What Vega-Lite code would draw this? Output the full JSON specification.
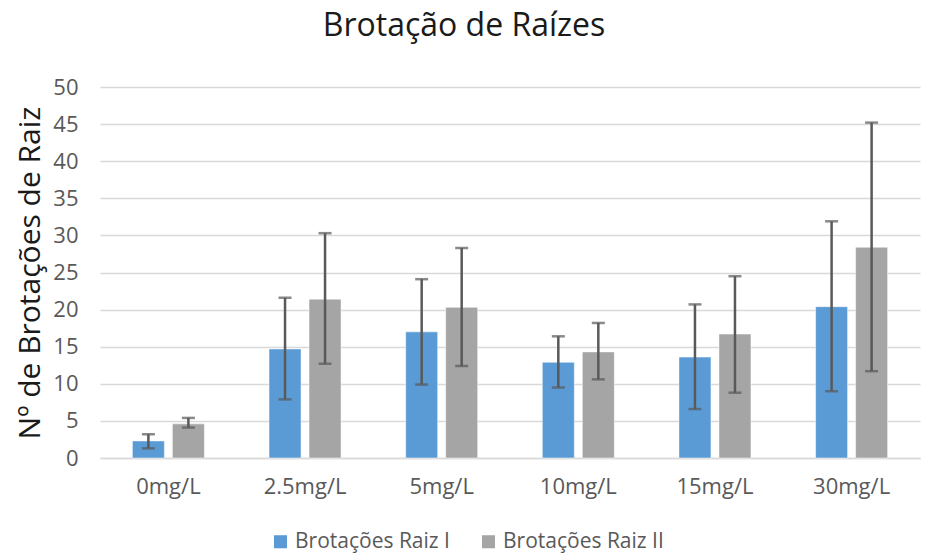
{
  "$schema": "https://vega.github.io/schema/vega-lite/v6.json",
  "autosize": "none",
  "width": 820,
  "height": 371,
  "padding": {"left": 100, "top": 87, "right": 7, "bottom": 97},
  "background": "white",
  "config": {
    "font": "Open Sans",
    "view": {"stroke": null},
    "axisY": {
      "tickCount": 10,
      "labelOverlap": false,
      "labelFontSize": 22,
      "labelColor": "#595959",
      "labelPadding": 22,
      "ticks": false,
      "domain": false,
      "gridColor": "#D9D9D9",
      "gridWidth": 1.5,
      "titleFontSize": 30,
      "titleFontWeight": "normal",
      "titleColor": "#1a1a1a",
      "titlePadding": 7
    }
  },
  "title": {
    "text": "Brotação de Raízes",
    "fontSize": 32,
    "font": "Open Sans",
    "fontWeight": "normal",
    "color": "#1a1a1a",
    "anchor": "middle",
    "dx": -46,
    "offset": 33
  },
  "data": {
    "values": [
      {"conc": "0mg/L", "serie": "Brotações Raiz I", "valor": 2.3, "lo": 1.3, "hi": 3.2},
      {"conc": "0mg/L", "serie": "Brotações Raiz II", "valor": 4.6, "lo": 4.1, "hi": 5.4},
      {"conc": "2.5mg/L", "serie": "Brotações Raiz I", "valor": 14.7, "lo": 7.9, "hi": 21.6},
      {"conc": "2.5mg/L", "serie": "Brotações Raiz II", "valor": 21.4, "lo": 12.7, "hi": 30.3},
      {"conc": "5mg/L", "serie": "Brotações Raiz I", "valor": 17.0, "lo": 9.9, "hi": 24.1},
      {"conc": "5mg/L", "serie": "Brotações Raiz II", "valor": 20.3, "lo": 12.4, "hi": 28.3},
      {"conc": "10mg/L", "serie": "Brotações Raiz I", "valor": 12.9, "lo": 9.5, "hi": 16.4},
      {"conc": "10mg/L", "serie": "Brotações Raiz II", "valor": 14.3, "lo": 10.6, "hi": 18.2},
      {"conc": "15mg/L", "serie": "Brotações Raiz I", "valor": 13.6, "lo": 6.6, "hi": 20.7},
      {"conc": "15mg/L", "serie": "Brotações Raiz II", "valor": 16.7, "lo": 8.8, "hi": 24.5},
      {"conc": "30mg/L", "serie": "Brotações Raiz I", "valor": 20.4, "lo": 9.0, "hi": 31.9},
      {"conc": "30mg/L", "serie": "Brotações Raiz II", "valor": 28.4, "lo": 11.7, "hi": 45.2}
    ]
  },
  "encoding": {
    "x": {
      "field": "conc",
      "type": "nominal",
      "sort": ["0mg/L", "2.5mg/L", "5mg/L", "10mg/L", "15mg/L", "30mg/L"],
      "scale": {"paddingInner": 0.473, "paddingOuter": 0.237},
      "axis": {
        "title": null,
        "labelAngle": 0,
        "labelFontSize": 22,
        "labelColor": "#595959",
        "labelPadding": 18,
        "ticks": false,
        "domain": true,
        "domainColor": "#D9D9D9",
        "domainWidth": 1.5,
        "grid": false
      }
    },
    "xOffset": {
      "field": "serie",
      "type": "nominal",
      "scale": {"paddingInner": 0.2, "paddingOuter": 0}
    }
  },
  "layer": [
    {
      "mark": {"type": "bar", "stroke": "white", "strokeWidth": 0.5},
      "encoding": {
        "y": {
          "field": "valor",
          "type": "quantitative",
          "scale": {"domain": [0, 50], "nice": false},
          "axis": {"title": "Nº de Brotações de Raiz"}
        },
        "color": {
          "field": "serie",
          "type": "nominal",
          "scale": {
            "domain": ["Brotações Raiz I", "Brotações Raiz II"],
            "range": ["#5B9BD5", "#A5A5A5"]
          },
          "legend": {
            "title": null,
            "orient": "none",
            "legendX": 170,
            "legendY": 444,
            "direction": "horizontal",
            "symbolType": "square",
            "symbolSize": 170,
            "symbolStrokeWidth": 0,
            "labelFontSize": 21,
            "labelLimit": 400,
            "labelColor": "#595959",
            "columnPadding": 28
          }
        }
      }
    },
    {
      "mark": {"type": "rule", "color": "#595959", "strokeWidth": 2.5},
      "encoding": {
        "y": {"field": "lo", "type": "quantitative", "axis": {"title": "Nº de Brotações de Raiz"}},
        "y2": {"field": "hi"}
      }
    },
    {
      "mark": {"type": "tick", "color": "#595959", "thickness": 2.5, "size": 13},
      "encoding": {
        "y": {"field": "lo", "type": "quantitative", "axis": {"title": "Nº de Brotações de Raiz"}}
      }
    },
    {
      "mark": {"type": "tick", "color": "#595959", "thickness": 2.5, "size": 13},
      "encoding": {
        "y": {"field": "hi", "type": "quantitative", "axis": {"title": "Nº de Brotações de Raiz"}}
      }
    }
  ]
}
